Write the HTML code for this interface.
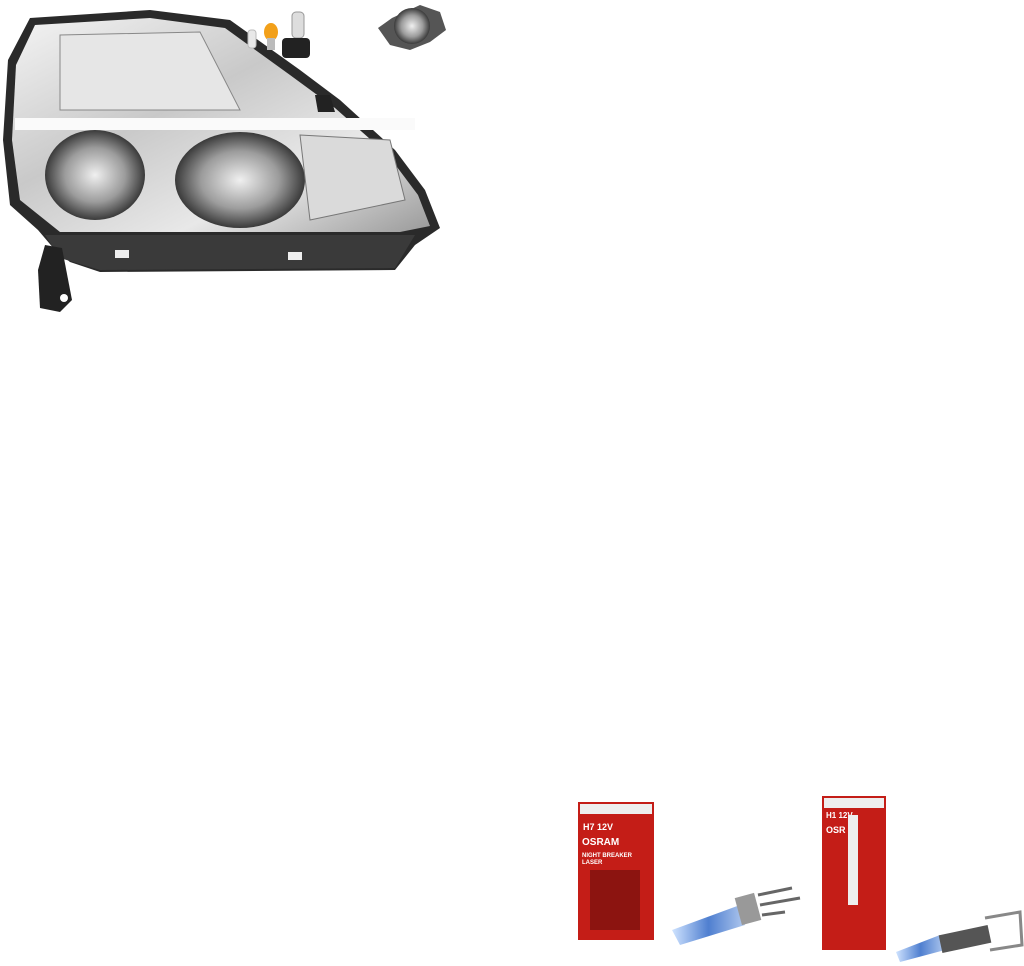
<!DOCTYPE html>
<html><head><meta charset="utf-8"><style>
html,body{margin:0;padding:0;background:#fff;width:1024px;height:966px;overflow:hidden}
svg{display:block}
text{font-family:"Liberation Sans",sans-serif;font-weight:bold}
</style></head><body>
<svg width="1024" height="966" viewBox="0 0 1024 966" xmlns="http://www.w3.org/2000/svg">
<defs>
<linearGradient id="chrome" x1="0" y1="0" x2="1" y2="1">
<stop offset="0" stop-color="#f4f4f4"/><stop offset="0.4" stop-color="#c9c9c9"/><stop offset="0.7" stop-color="#e8e8e8"/><stop offset="1" stop-color="#9a9a9a"/></linearGradient>
<radialGradient id="lens" cx="0.5" cy="0.5" r="0.5"><stop offset="0" stop-color="#f0f0f0"/><stop offset="0.6" stop-color="#9c9c9c"/><stop offset="1" stop-color="#3a3a3a"/></radialGradient>
<linearGradient id="blue" x1="0" y1="0" x2="1" y2="0"><stop offset="0" stop-color="#cfe3ff"/><stop offset="0.5" stop-color="#4f7fd0"/><stop offset="1" stop-color="#b0c8ee"/></linearGradient>
</defs>
<!-- headlight -->
<path d="M30,18 L150,10 L230,20 L300,70 L340,100 L395,150 L425,190 L440,228 L415,245 L395,270 L100,272 L70,262 L55,250 L38,230 L10,205 L3,140 L8,60 Z" fill="#2a2a2a"/>
<path d="M35,25 L150,18 L225,28 L290,75 L335,108 L388,155 L418,195 L430,226 L400,232 L60,232 L20,200 L12,140 L16,65 Z" fill="url(#chrome)"/>
<rect x="15" y="118" width="400" height="12" fill="#fafafa"/>
<path d="M60,35 L200,32 L240,110 L60,110 Z" fill="#e6e6e6" stroke="#888" stroke-width="1"/>
<ellipse cx="95" cy="175" rx="50" ry="45" fill="url(#lens)"/>
<ellipse cx="240" cy="180" rx="65" ry="48" fill="url(#lens)"/>
<path d="M300,135 L390,140 L405,200 L310,220 Z" fill="#dadada" stroke="#777"/>
<path d="M45,235 L415,235 L395,268 L100,270 L60,258 Z" fill="#3a3a3a"/>
<rect x="115" y="250" width="14" height="8" fill="#eee"/>
<rect x="288" y="252" width="14" height="8" fill="#eee"/>
<path d="M45,245 L62,248 L72,300 L60,312 L40,308 L38,270 Z" fill="#222"/>
<circle cx="64" cy="298" r="4" fill="#fff"/>
<path d="M315,95 L330,95 L335,112 L318,112 Z" fill="#222"/>
<!-- small bulbs -->
<rect x="248" y="30" width="8" height="18" rx="3" fill="#e8e8e8" stroke="#bbb"/>
<ellipse cx="271" cy="32" rx="7" ry="9" fill="#f2a01a"/>
<rect x="267" y="38" width="8" height="12" fill="#bbb"/>
<rect x="292" y="12" width="12" height="26" rx="4" fill="#ddd" stroke="#999"/>
<rect x="282" y="38" width="28" height="20" rx="4" fill="#222"/>
<!-- fog light -->
<path d="M378,28 L392,18 L420,5 L440,12 L446,30 L430,42 L410,50 L390,45 Z" fill="#555"/>
<circle cx="412" cy="26" r="18" fill="url(#lens)"/>
<!-- box 1 -->
<rect x="578" y="802" width="76" height="138" fill="#c41d17"/>
<rect x="580" y="804" width="72" height="10" fill="#eee"/>
<text x="583" y="830" font-size="9" fill="#fff">H7 12V</text>
<text x="582" y="845" font-size="10" fill="#fff">OSRAM</text>
<text x="582" y="857" font-size="6" fill="#fff">NIGHT BREAKER</text>
<text x="582" y="864" font-size="6" fill="#fff">LASER</text>
<rect x="590" y="870" width="50" height="60" fill="#8c1410"/>
<!-- bulb 1 -->
<path d="M672,930 L740,905 L745,925 L680,945 Z" fill="url(#blue)"/>
<rect x="738" y="895" width="20" height="28" fill="#999" transform="rotate(-15 748 909)"/>
<path d="M758,895 L792,888 M760,905 L800,898 M762,915 L785,912" stroke="#666" stroke-width="3"/>
<!-- box 2 -->
<rect x="822" y="796" width="64" height="154" fill="#c41d17"/>
<rect x="824" y="798" width="60" height="10" fill="#eee"/>
<text x="826" y="818" font-size="8" fill="#fff">H1 12V</text>
<text x="826" y="833" font-size="9" fill="#fff">OSR</text>
<rect x="848" y="815" width="10" height="90" fill="#eee"/>
<!-- bulb 2 -->
<path d="M896,952 L940,935 L945,950 L900,962 Z" fill="url(#blue)"/>
<rect x="940" y="930" width="50" height="18" fill="#555" transform="rotate(-12 965 939)"/>
<path d="M985,918 L1020,912 L1022,945 L990,950" fill="none" stroke="#888" stroke-width="3"/>
</svg>
</body></html>
